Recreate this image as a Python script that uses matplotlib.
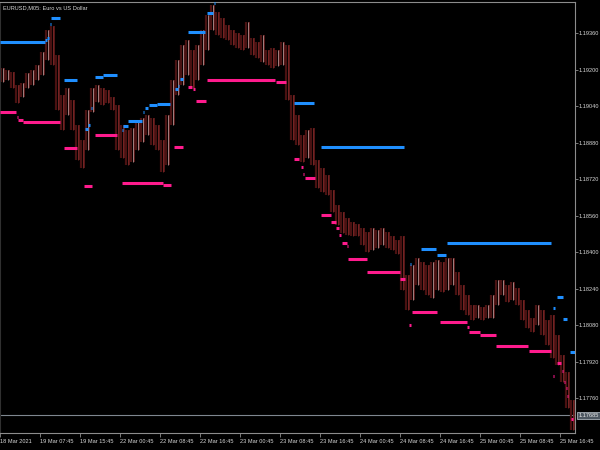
import matplotlib
matplotlib.use("Agg")
import matplotlib.pyplot as plt
import numpy as np

title = "EURUSD,M05: Euro vs US Dollar"
x_labels = ["18 Mar 2021", "19 Mar 07:45", "19 Mar 15:45", "22 Mar 00:45", "22 Mar 08:45",
            "22 Mar 16:45", "23 Mar 00:45", "23 Mar 08:45", "23 Mar 16:45", "24 Mar 00:45",
            "24 Mar 08:45", "24 Mar 16:45", "25 Mar 00:45", "25 Mar 08:45", "25 Mar 16:45"]
x_label_pos = [0, 8, 16, 24, 32, 40, 48, 56, 64, 72, 80, 88, 96, 104, 112]
y_ticks = [1.17760, 1.17920, 1.18080, 1.18240, 1.18400, 1.18560,
           1.18720, 1.18880, 1.19040, 1.19200, 1.19360]
last_price = 1.17685

bar_high = [1.19207, 1.19198, 1.19190, 1.19133, 1.19141, 1.19185, 1.19198, 1.19220, 1.19277, 1.19374,
            1.19391, 1.19264, 1.19089, 1.19120, 1.19067, 1.18957, 1.18892, 1.19023, 1.19120, 1.19133,
            1.19120, 1.19111, 1.19080, 1.19045, 1.18957, 1.18936, 1.18944, 1.18971, 1.18988, 1.19001,
            1.18988, 1.18957, 1.18892, 1.19001, 1.19155, 1.19242, 1.19308, 1.19330, 1.19286, 1.19308,
            1.19374, 1.19439, 1.19483, 1.19452, 1.19426, 1.19395, 1.19374, 1.19360, 1.19352, 1.19409,
            1.19339, 1.19321, 1.19352, 1.19286, 1.19295, 1.19286, 1.19321, 1.19308, 1.19089, 1.19001,
            1.18914, 1.18936, 1.18944, 1.18804, 1.18769, 1.18738, 1.18673, 1.18607, 1.18576, 1.18550,
            1.18533, 1.18524, 1.18506, 1.18489, 1.18506, 1.18498, 1.18506, 1.18489, 1.18471, 1.18454,
            1.18471, 1.18300, 1.18344, 1.18375, 1.18357, 1.18344, 1.18357, 1.18366, 1.18357, 1.18375,
            1.18375, 1.18314, 1.18257, 1.18213, 1.18169, 1.18169, 1.18160, 1.18169, 1.18213, 1.18279,
            1.18279, 1.18257, 1.18270, 1.18244, 1.18191, 1.18147, 1.18112, 1.18169, 1.18147, 1.18103,
            1.18125, 1.18038, 1.17950, 1.17876, 1.17753]
bar_low = [1.19146, 1.19155, 1.19120, 1.19054, 1.19080, 1.19120, 1.19133, 1.19155, 1.19176, 1.19242,
           1.19220, 1.19023, 1.18936, 1.19001, 1.18936, 1.18804, 1.18769, 1.18848, 1.19014, 1.19058,
           1.19045, 1.19054, 1.19023, 1.18848, 1.18813, 1.18782, 1.18795, 1.18848, 1.18883, 1.18914,
           1.18870, 1.18848, 1.18752, 1.18782, 1.18957, 1.19089, 1.19133, 1.19176, 1.19120, 1.19155,
           1.19220, 1.19286, 1.19374, 1.19352, 1.19339, 1.19330, 1.19308, 1.19295, 1.19286, 1.19295,
           1.19264, 1.19251, 1.19233, 1.19220, 1.19207, 1.19216, 1.19220, 1.19067, 1.18892, 1.18870,
           1.18795, 1.18813, 1.18782, 1.18682, 1.18664, 1.18651, 1.18576, 1.18519, 1.18484, 1.18476,
           1.18471, 1.18471, 1.18432, 1.18401, 1.18410, 1.18419, 1.18432, 1.18419, 1.18410, 1.18392,
           1.18235, 1.18147, 1.18191, 1.18257, 1.18235, 1.18213, 1.18200, 1.18235, 1.18226, 1.18235,
           1.18257, 1.18213, 1.18147, 1.18125, 1.18103, 1.18112, 1.18103, 1.18112, 1.18112, 1.18169,
           1.18213, 1.18182, 1.18191, 1.18169, 1.18103, 1.18068, 1.18051, 1.18081, 1.18038, 1.17994,
           1.17937, 1.17906, 1.17832, 1.17718, 1.17622]

# resistance (blue) levels: start hour, end hour, price
res_start = [0, 9.0, 9.4, 9.9, 10.2, 12.8, 17.0, 17.6, 18.2, 19.0, 20.6, 24.4, 24.6, 25.6, 28.6, 29.0,
             29.8, 31.4, 35.0, 35.6, 36.0, 37.6, 41.4, 42.8, 58.8, 64.2, 82.0, 84.2, 87.4, 89.4,
             110.6, 111.4, 112.6, 114.0]
res_end = [9.0, 9.4, 9.8, 10.1, 12.0, 15.4, 17.6, 18.0, 18.4, 20.6, 23.4, 24.6, 25.6, 28.4, 28.8, 29.6,
           31.4, 34.0, 35.6, 35.8, 36.6, 41.0, 42.6, 43.0, 62.8, 80.8, 82.2, 87.2, 89.2, 110.2,
           111.0, 112.6, 113.4, 115.0]
res_level = [1.19321, 1.19330, 1.19339, 1.19400, 1.19426, 1.19155, 1.18940, 1.18957, 1.19032, 1.19168,
             1.19176, 1.18936, 1.18953, 1.18975, 1.19014, 1.19032, 1.19045, 1.19049, 1.19115, 1.19128,
             1.19159, 1.19365, 1.19448, 1.19492, 1.19054, 1.18861, 1.18349, 1.18414, 1.18388, 1.18441,
             1.18156, 1.18204, 1.18108, 1.17963]

# support (pink) levels
sup_start = [0, 3.4, 3.6, 4.6, 12.8, 16.8, 19.0, 24.4, 32.6, 34.8, 37.6, 38.6, 39.2, 41.4, 55.2,
             58.8, 60.2, 60.6, 61.0, 64.2, 66.2, 67.2, 67.8, 68.4, 69.4, 69.6, 73.4, 80.0,
             81.8, 82.4, 88.0, 93.4, 93.8, 96.0, 99.2, 105.8, 110.6, 111.4, 112.4, 112.8, 113.2, 113.4, 114.2]
sup_end = [3.2, 3.6, 4.6, 12.0, 15.4, 18.4, 23.4, 32.6, 34.2, 36.6, 38.4, 39.0, 41.2, 55.0, 57.2,
           59.8, 60.6, 60.8, 63.0, 66.2, 67.2, 67.8, 68.2, 69.4, 69.6, 73.4, 80.0, 81.0,
           82.2, 87.4, 93.4, 93.8, 96.0, 99.2, 105.6, 110.2, 110.8, 112.2, 112.6, 113.0, 113.4, 113.6, 114.6]
sup_level = [1.19014, 1.18993, 1.18979, 1.18971, 1.18857, 1.18690, 1.18914, 1.18703, 1.18695, 1.18861,
             1.19124, 1.19115, 1.19063, 1.19155, 1.19146, 1.18809, 1.18774, 1.18743, 1.18725, 1.18563,
             1.18533, 1.18506, 1.18476, 1.18441, 1.18428, 1.18371, 1.18314, 1.18283, 1.18081, 1.18138,
             1.18095, 1.18073, 1.18051, 1.18038, 1.17990, 1.17968, 1.17858, 1.17915, 1.17880, 1.17832,
             1.17806, 1.17771, 1.17670]

FONT = ["Liberation Sans", "DejaVu Sans"]
FS = 4.1
TXT = "#d8d8d8"
GRID = "#8c8c8c"

fig = plt.figure(figsize=(6, 4.5), dpi=100, facecolor="black")
ax = fig.add_axes([0.0, 17 / 450, 575 / 600, 431 / 450])
ax.set_facecolor("black")

hi = np.array(bar_high)
lo = np.array(bar_low)
xs = np.arange(len(hi)) + 0.5
mid = (hi + lo) / 2
up = np.concatenate([[True], mid[1:] >= mid[:-1]])

ax.vlines(xs - 0.22, lo, hi, color="#4a1212", lw=1.6, zorder=2)
ax.vlines(xs + 0.22, lo, hi, color="#5e1a1a", lw=1.3, zorder=2)
ax.vlines(xs[up], lo[up], hi[up], color="#b09090", lw=0.6, zorder=3)
ax.vlines(xs[~up] + 0.05, lo[~up], hi[~up], color="#7a2626", lw=0.6, zorder=3)

for s, e, v in zip(res_start, res_end, res_level):
    ax.plot([s, e], [v, v], color="#1f8fff", lw=2.2, solid_capstyle="butt", zorder=4)
for s, e, v in zip(sup_start, sup_end, sup_level):
    ax.plot([s, e], [v, v], color="#ff1b8d", lw=2.2, solid_capstyle="butt", zorder=4)

ax.axhline(last_price, color="#7f8790", lw=0.8, zorder=1)

ax.set_xlim(0, 115)
ax.set_ylim(1.17608, 1.19496)

for sp in ["top", "right", "bottom", "left"]:
    ax.spines[sp].set_color(GRID)
    ax.spines[sp].set_linewidth(0.8)
ax.spines["left"].set_color("#303030")

ax.yaxis.tick_right()
ax.set_yticks(y_ticks)
ax.set_yticklabels([f"{v:.5f}" for v in y_ticks], fontsize=FS, color=TXT, family=FONT)
ax.tick_params(axis="y", direction="out", length=2, width=0.6, color=GRID, pad=0.8)

ax.set_xticks(x_label_pos)
ax.set_xticklabels(x_labels, fontsize=FS, color=TXT, family=FONT, ha="left")
ax.tick_params(axis="x", direction="out", length=3, width=0.6, color=GRID, pad=1.5)

ax.text(0.005, 0.993, title, transform=ax.transAxes, fontsize=FS, color=TXT, family=FONT,
        ha="left", va="top")

ax.text(1.006, last_price, f"{last_price:.5f}", transform=ax.get_yaxis_transform(),
        fontsize=FS, color="#e8e8e8", family=FONT, ha="left", va="center", zorder=10,
        bbox=dict(boxstyle="square,pad=0.2", facecolor="#4e5862", edgecolor="#a8b0b8", lw=0.6),
        clip_on=False)

fig.savefig("out.png", dpi=100, facecolor="black")
